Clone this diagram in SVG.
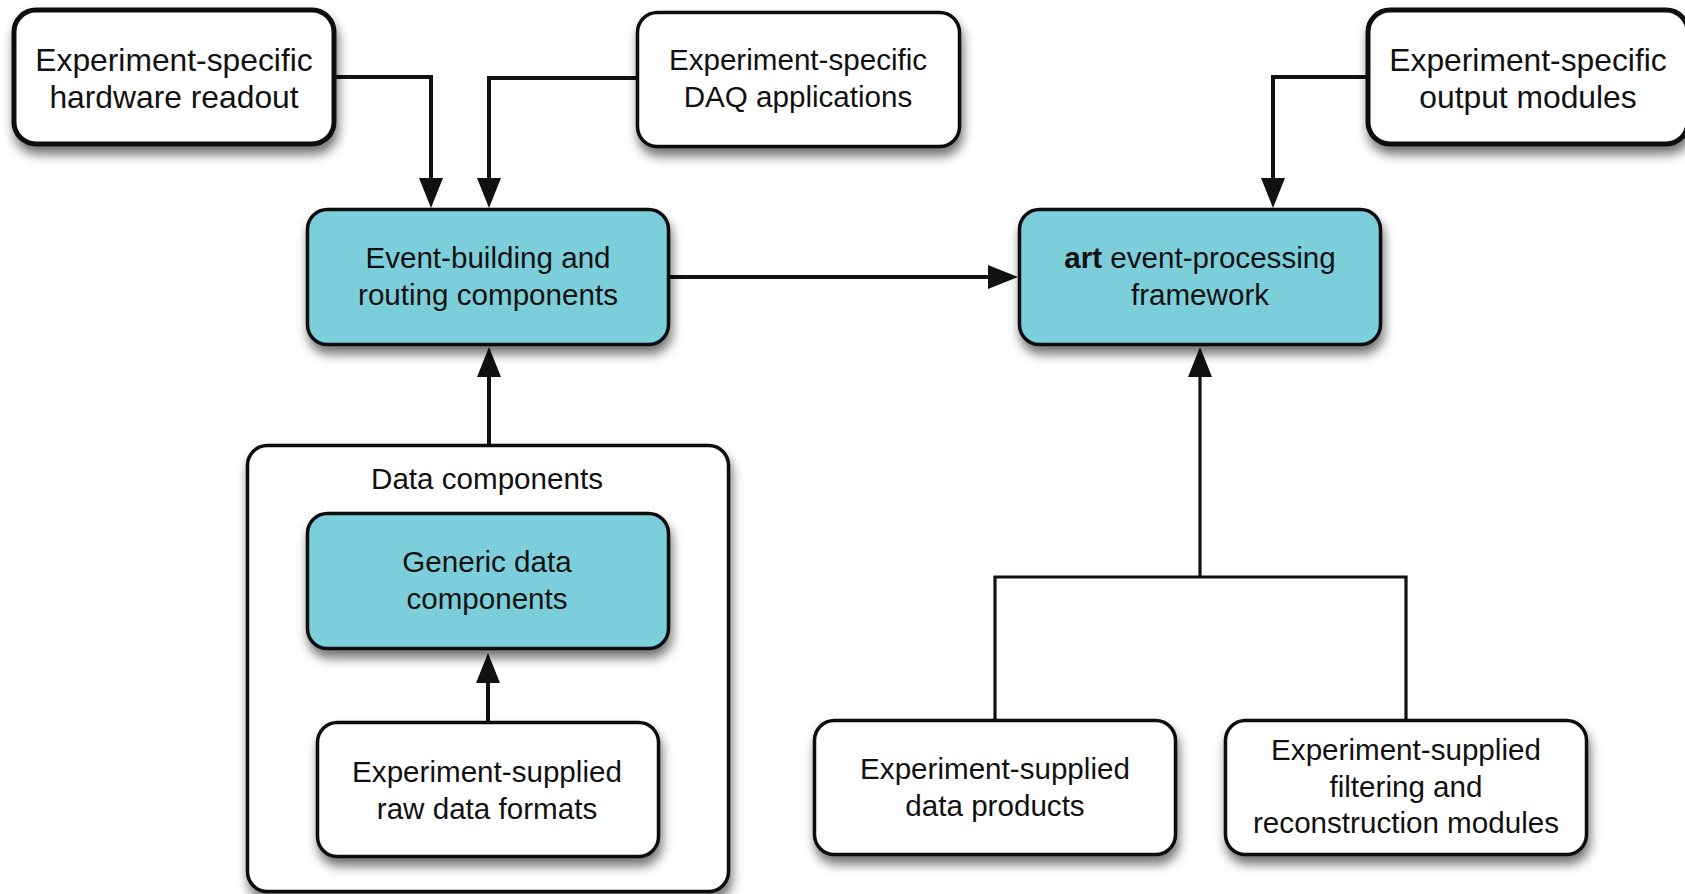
<svg xmlns="http://www.w3.org/2000/svg" width="1685" height="894" viewBox="0 0 1685 894">
  <style>
    .box { fill: #ffffff; stroke: #111111; stroke-width: 3.5; filter: url(#shadow); }
    .box.heavy { stroke-width: 5; }
    .box.teal { fill: #7bcfda; }
    .label { font-family: "Liberation Sans", Arial, Helvetica, sans-serif; font-size: 29.6px; fill: #111111; text-anchor: middle; }
    .label.big { font-size: 31.8px; }
    .conn { fill: none; stroke: #111111; stroke-width: 4; }
    .conn.thin { stroke-width: 3.2; }
  </style>
  <defs>
    <filter id="shadow" x="-10%" y="-10%" width="125%" height="135%">
      <feDropShadow dx="2" dy="8" stdDeviation="5.5" flood-color="#000000" flood-opacity="0.55"/>
    </filter>
    <marker id="arrow" markerUnits="userSpaceOnUse" markerWidth="30" markerHeight="24" refX="1" refY="12" orient="auto">
      <path d="M0,0 L30,12 L0,24 Z" fill="#111111"/>
    </marker>
  </defs>

  <rect width="1685" height="894" fill="#ffffff"/>

  <!-- container for the data components -->
  <g id="data-components">
    <rect class="box" x="247.5" y="445.5" width="481" height="446" rx="20"/>
    <text class="label" x="487" y="489">Data components</text>
  </g>

  <!-- connectors -->
  <g id="connectors">
    <path class="conn" d="M334,77 H431 V179" marker-end="url(#arrow)"/>
    <path class="conn" d="M637,78 H489 V179" marker-end="url(#arrow)"/>
    <path class="conn" d="M670,277 H989" marker-end="url(#arrow)"/>
    <path class="conn" d="M1367,77 H1273 V179" marker-end="url(#arrow)"/>
    <path class="conn" d="M489,445 V376" marker-end="url(#arrow)"/>
    <path class="conn" d="M488,721 V682" marker-end="url(#arrow)"/>
    <path class="conn thin" d="M995,719 V577 H1406 V719"/>
    <path class="conn thin" d="M1200,577 V376" marker-end="url(#arrow)"/>
  </g>

  <g id="hardware-readout">
    <rect class="box heavy" x="14" y="10" width="320" height="134" rx="22"/>
    <text class="label big" x="174" y="71">Experiment-specific</text>
    <text class="label big" x="174" y="108">hardware readout</text>
  </g>

  <g id="daq-applications">
    <rect class="box" x="637.5" y="12.5" width="322" height="134" rx="20"/>
    <text class="label" x="798" y="70">Experiment-specific</text>
    <text class="label" x="798" y="107">DAQ applications</text>
  </g>

  <g id="output-modules">
    <rect class="box heavy" x="1368" y="10" width="320" height="134" rx="22"/>
    <text class="label big" x="1528" y="71">Experiment-specific</text>
    <text class="label big" x="1528" y="108">output modules</text>
  </g>

  <g id="event-building">
    <rect class="box teal" x="307.5" y="209.5" width="361" height="135" rx="20"/>
    <text class="label" x="488" y="268">Event-building and</text>
    <text class="label" x="488" y="305">routing components</text>
  </g>

  <g id="art-framework">
    <rect class="box teal" x="1019.5" y="209.5" width="361" height="135" rx="20"/>
    <text class="label" x="1200" y="268"><tspan font-weight="bold">art</tspan> event-processing</text>
    <text class="label" x="1200" y="305">framework</text>
  </g>

  <g id="generic-data">
    <rect class="box teal" x="307.5" y="513.5" width="361" height="135" rx="20"/>
    <text class="label" x="487" y="572">Generic data</text>
    <text class="label" x="487" y="609">components</text>
  </g>

  <g id="raw-data-formats">
    <rect class="box" x="317.5" y="722.5" width="341" height="134" rx="20"/>
    <text class="label" x="487" y="782">Experiment-supplied</text>
    <text class="label" x="487" y="819">raw data formats</text>
  </g>

  <g id="data-products">
    <rect class="box" x="814.5" y="720.5" width="361" height="134" rx="20"/>
    <text class="label" x="995" y="779">Experiment-supplied</text>
    <text class="label" x="995" y="816">data products</text>
  </g>

  <g id="filtering-reconstruction">
    <rect class="box" x="1225.5" y="720.5" width="361" height="134" rx="20"/>
    <text class="label" x="1406" y="760">Experiment-supplied</text>
    <text class="label" x="1406" y="797">filtering and</text>
    <text class="label" x="1406" y="833">reconstruction modules</text>
  </g>
</svg>
